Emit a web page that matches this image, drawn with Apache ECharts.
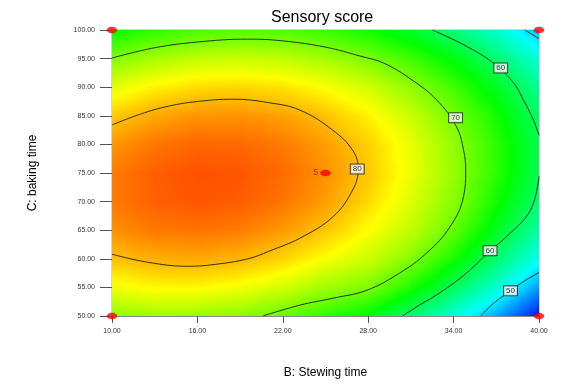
<!DOCTYPE html>
<html>
<head>
<meta charset="utf-8">
<script src="https://cdn.jsdelivr.net/npm/echarts@6/dist/echarts.min.js"></script>
<style>
html,body{margin:0;padding:0;background:#ffffff;}
#chart{width:565px;height:390px;}
</style>
</head>
<body>
<div id="chart"></div>
<script>
// ---- data ----
// grid nodes of the response surface (B: Stewing time, C: baking time)
const stewingTimes = [10, 13, 16, 19, 22, 25, 28, 31, 34, 37, 40];
const bakingTimes = [50, 55, 60, 65, 70, 75, 80, 85, 90, 95, 100];
// estimated sensory score at each node, one row per baking time, along stewing times
const scoreC50  = [71.1, 71.8, 71.7, 70.7, 68.9, 66.3, 63.6, 58.6, 53.5, 47.6, 40.8];
const scoreC55  = [75.9, 76.8, 76.8, 76.0, 74.4, 71.9, 70.3, 65.5, 59.5, 53.8, 47.1];
const scoreC60  = [79.5, 80.5, 80.7, 80.1, 78.6, 76.3, 74.0, 70.5, 65.0, 58.7, 52.2];
const scoreC65  = [81.9, 83.1, 83.4, 82.9, 81.5, 79.4, 76.4, 73.5, 69.0, 62.4, 56.1];
const scoreC70  = [83.0, 84.3, 84.8, 84.5, 83.3, 81.3, 78.4, 74.7, 70.8, 64.9, 58.7];
const scoreC75  = [82.9, 84.4, 85.0, 84.8, 83.8, 81.9, 79.2, 75.7, 71.3, 66.1, 60.1];
const scoreC80  = [81.6, 83.2, 84.0, 83.9, 83.0, 81.3, 78.8, 75.4, 71.1, 66.1, 60.2];
const scoreC85  = [79.0, 80.8, 81.7, 81.8, 81.1, 79.5, 77.1, 73.8, 69.8, 64.9, 59.1];
const scoreC90  = [75.2, 77.1, 78.2, 78.4, 77.8, 76.4, 74.2, 71.1, 67.1, 62.4, 56.8];
const scoreC95  = [70.2, 72.2, 73.5, 73.8, 73.4, 72.1, 70.0, 67.1, 63.3, 58.7, 53.3];
const scoreC100 = [63.9, 66.1, 67.5, 68.0, 67.7, 66.6, 64.6, 61.8, 58.2, 53.8, 48.5];

// tick labels
const xTickValues = [10, 16, 22, 28, 34, 40];
const yTickValues = [50, 55, 60, 65, 70, 75, 80, 85, 90, 95, 100];

// contour lines [B, C]
const contour80 = [[10,83.4],[12,85.3],[14,86.7],[16,87.5],[18.5,87.9],[21,87.3],[23.2,86.0],[25.5,82.5],[26.9,79.0],[27.3,75.7],[26.9,72],[25.55,67.4],[23.2,63.6],[21,61.3],[19.7,60.1],[17.5,59.1],[15.3,58.7],[12.5,59.4],[10,60.8]];
const contour70 = [[10,95.1],[13,96.9],[16,97.9],[19.5,98.4],[22,98.1],[25,97.0],[27.5,95.4],[29.1,94.2],[31,91.4],[32.8,87.8],[34.2,83.1],[34.7,79.0],[34.85,75.5],[34.7,70.9],[33.75,65.6],[32.1,61.0],[30.2,57.5],[27.9,54.5],[25.5,53.1],[23.2,51.9],[20.6,50]];
const contour60Upper = [[32.5,100],[34.8,97.3],[36.8,94.2],[38.2,90.8],[38.9,87.8],[39.6,84.3],[40,81.6]];
const contour60Lower = [[40,74.4],[39.4,68.5],[37.73,63.9],[36.56,61.4],[34.9,57.5],[33.0,54.0],[31.6,51.9],[30.4,50]];
const contour50Upper = [[39.0,100],[40,98.5]];
const contour50Lower = [[40,57.6],[38.9,56.0],[38.0,54.4],[36.8,52.2],[35.9,50]];

// contour value labels [B, C, text]
const contourLabels = [[27.23,75.7,'80'],[34.14,84.67,'70'],[37.31,93.36,'60'],[36.56,61.42,'60'],[38.0,54.4,'50']];

// design points [B, C]; the centre point has 5 replicates
const designPoints = [[10,50],[10,100],[40,50],[40,100],[25,75]];
const centerReplicates = 5;

// ---- styles ----
const colorStops = [[40,[0,0,255]],[51.5,[0,255,255]],[64,[0,255,0]],[76.5,[255,255,0]],[89,[255,0,0]]];
const FONT = "'Liberation Sans', Arial, sans-serif";

function colorOf(v) {
  const s = colorStops;
  if (v <= s[0][0]) return s[0][1];
  for (let k = 0; k < s.length - 1; k++) {
    if (v <= s[k + 1][0]) {
      const t = (v - s[k][0]) / (s[k + 1][0] - s[k][0]);
      return [0, 1, 2].map(i => s[k][1][i] + (s[k + 1][1][i] - s[k][1][i]) * t);
    }
  }
  return s[s.length - 1][1];
}
function rgb(c) { return 'rgb(' + c.map(x => Math.round(x)).join(',') + ')'; }

const scoreGrid = [scoreC50, scoreC55, scoreC60, scoreC65, scoreC70, scoreC75, scoreC80, scoreC85, scoreC90, scoreC95, scoreC100];

// cells between grid nodes for the library's custom series
const cells = [];
for (let j = 0; j < bakingTimes.length - 1; j++) {
  for (let i = 0; i < stewingTimes.length - 1; i++) {
    cells.push([stewingTimes[i], bakingTimes[j], stewingTimes[i + 1], bakingTimes[j + 1],
      scoreGrid[j][i], scoreGrid[j][i + 1], scoreGrid[j + 1][i], scoreGrid[j + 1][i + 1]]);
  }
}

function renderCell(params, api) {
  const p0 = api.coord([api.value(0), api.value(1)]);
  const p1 = api.coord([api.value(2), api.value(3)]);
  const x0 = p0[0], x1 = p1[0], yb = p0[1], yt = p1[1];
  const a = api.value(4), b = api.value(5), c = api.value(6), d = api.value(7);
  const w = x1 - x0, h = yb - yt;
  const cx = (x0 + x1) / 2, cy = (yb + yt) / 2;
  const v0 = (a + b + c + d) / 4;
  const gx = ((b + d) - (a + c)) / 2 / w;
  const gy = ((a + b) - (c + d)) / 2 / h;
  const gl = Math.hypot(gx, gy);
  const half = Math.abs(gx) * w / 2 + Math.abs(gy) * h / 2;
  let fill;
  if (gl < 1e-9 || half < 1e-6) {
    fill = rgb(colorOf(v0));
  } else {
    const t = half / gl, ux = gx / gl, uy = gy / gl;
    const vmin = v0 - half, vmax = v0 + half;
    const vals = [vmin];
    colorStops.forEach(s => { if (s[0] > vmin && s[0] < vmax) vals.push(s[0]); });
    vals.push(vmax);
    const stops = vals.map(v => ({ offset: (v - vmin) / (vmax - vmin), color: rgb(colorOf(v)) }));
    fill = new echarts.graphic.LinearGradient(cx - ux * t, cy - uy * t, cx + ux * t, cy + uy * t, stops, true);
  }
  return {
    type: 'rect',
    shape: { x: x0 - 0.6, y: yt - 0.6, width: w + 1.2, height: h + 1.2 },
    style: { fill: fill }
  };
}

function contourSeries(data) {
  return {
    type: 'line', data: data, smooth: 0.4, symbol: 'none', silent: true, z: 3,
    lineStyle: { color: '#1e1e1e', width: 0.9 }, clip: true, animation: false
  };
}

const chart = echarts.init(document.getElementById('chart'), null, { renderer: 'canvas' });
chart.setOption({
  animation: false,
  backgroundColor: '#ffffff',
  title: {
    text: 'Sensory score', left: 271, top: 10, padding: 0,
    textStyle: { fontSize: 16, fontWeight: 'normal', color: '#000', fontFamily: FONT }
  },
  grid: { left: 112, right: 26, top: 30, bottom: 74, show: true, borderColor: '#a8a8a8', borderWidth: 1, backgroundColor: 'transparent' },
  xAxis: {
    type: 'value', min: 10, max: 40,
    name: 'B: Stewing time', nameLocation: 'middle', nameGap: 51,
    nameTextStyle: { fontSize: 12, color: '#000', fontFamily: FONT },
    axisLine: { show: true, onZero: false, lineStyle: { color: '#8a8a8a', width: 1 } },
    axisTick: { show: true, customValues: xTickValues, length: 7, lineStyle: { color: '#555' } },
    axisLabel: { customValues: xTickValues, formatter: v => Number(v).toFixed(2), fontSize: 7, color: '#333', margin: 12, fontFamily: FONT },
    splitLine: { show: false }
  },
  yAxis: {
    type: 'value', min: 50, max: 100,
    name: 'C: baking time', nameLocation: 'middle', nameGap: 73,
    nameTextStyle: { fontSize: 12, color: '#000', fontFamily: FONT },
    axisLine: { show: true, onZero: false, lineStyle: { color: '#333', width: 1 } },
    axisTick: { show: true, customValues: yTickValues, length: 12, lineStyle: { color: '#555' } },
    axisLabel: { customValues: yTickValues, formatter: v => Number(v).toFixed(2), fontSize: 7, color: '#333', margin: 17, fontFamily: FONT },
    splitLine: { show: false }
  },
  series: [
    {
      type: 'custom', renderItem: renderCell, data: cells, clip: true, silent: true, z: 1,
      encode: { x: [0, 2], y: [1, 3] }, animation: false
    },
    contourSeries(contour80),
    contourSeries(contour70),
    contourSeries(contour60Upper),
    contourSeries(contour60Lower),
    contourSeries(contour50Upper),
    contourSeries(contour50Lower),
    {
      type: 'scatter', data: contourLabels, symbolSize: 1, silent: true, z: 5,
      itemStyle: { color: 'rgba(0,0,0,0)' },
      label: {
        show: true, position: 'inside', formatter: p => p.data[2],
        fontSize: 8, color: '#000', fontFamily: FONT,
        backgroundColor: '#ffffff', borderColor: '#222', borderWidth: 1, padding: [1, 2, 0, 2]
      }
    },
    {
      type: 'scatter', silent: true, z: 6, clip: false,
      symbol: 'circle', symbolSize: [10, 6],
      itemStyle: { color: '#ff0000', borderColor: '#c00000', borderWidth: 0.5 },
      data: designPoints.map(p => (p[0] === 25 && p[1] === 75) ? {
        value: p,
        label: { show: true, position: 'left', distance: 2, formatter: String(centerReplicates), fontSize: 9, color: '#7a2a00', fontFamily: FONT }
      } : { value: p })
    }
  ]
});
</script>
</body>
</html>
